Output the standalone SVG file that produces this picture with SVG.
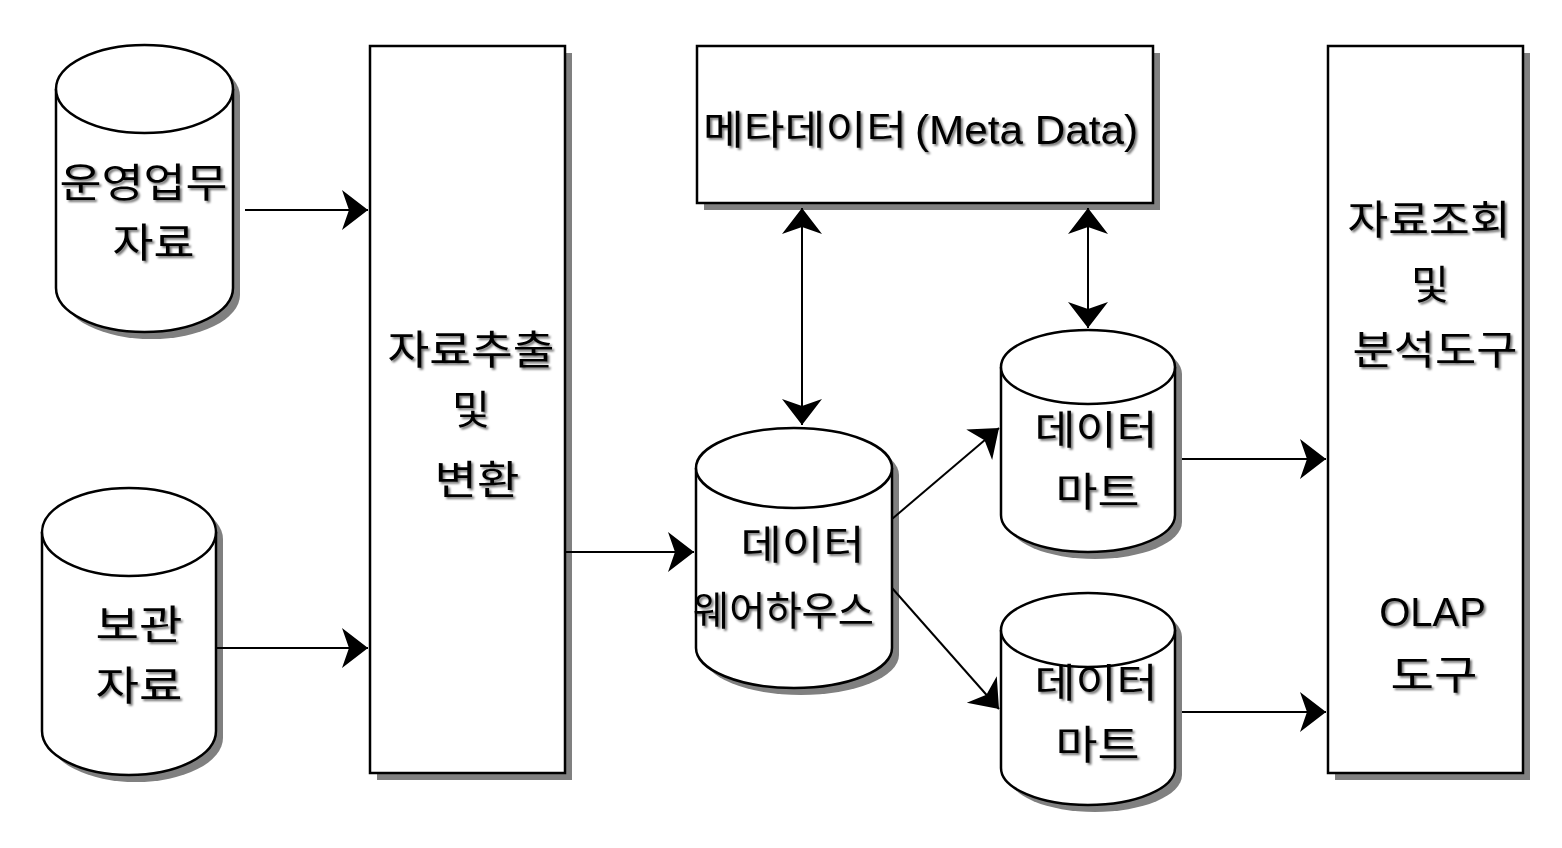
<svg xmlns="http://www.w3.org/2000/svg" width="1562" height="848" viewBox="0 0 1562 848">
<style>
.sh{fill:#808080;stroke:none}
.shape{fill:#fff;stroke:#000;stroke-width:2.5}
.edge{fill:none;stroke:#000;stroke-width:2}
.t{font-family:"Noto Sans CJK KR","Liberation Sans",sans-serif;font-size:40px;fill:#000;text-anchor:middle;filter:url(#ts)}
.l{font-family:"Liberation Sans","Noto Sans CJK KR",sans-serif}
</style>
<defs>
<filter id="ts" x="-10%" y="-20%" width="130%" height="150%">
<feDropShadow dx="2" dy="2" stdDeviation="0.9" flood-color="#000" flood-opacity="0.55"/>
</filter>
<marker id="ah" viewBox="-28 -21 30 42" refX="0" refY="0" markerWidth="30" markerHeight="42" markerUnits="userSpaceOnUse" orient="auto-start-reverse">
<path d="M0,0 L-26,-20 L-19,0 L-26,20 Z" fill="#000"/>
</marker>
</defs>
<rect width="1562" height="848" fill="#fff"/>

<g id="src1">
<path class="sh" d="M63,96 a88.5,44 0 0 1 177,0 V295 a88.5,44 0 0 1 -177,0 Z"/>
<path class="shape" d="M56,89 a88.5,44 0 0 1 177,0 V288 a88.5,44 0 0 1 -177,0 Z"/>
<path class="shape" d="M56,89 a88.5,44 0 0 0 177,0"/>
<text class="t" x="143.5" y="197" textLength="168" lengthAdjust="spacingAndGlyphs">운영업무</text>
<text class="t" x="153.5" y="257" textLength="82" lengthAdjust="spacingAndGlyphs">자료</text>
</g>

<g id="src2">
<path class="sh" d="M49,539 a87,44 0 0 1 174,0 V738 a87,44 0 0 1 -174,0 Z"/>
<path class="shape" d="M42,532 a87,44 0 0 1 174,0 V731 a87,44 0 0 1 -174,0 Z"/>
<path class="shape" d="M42,532 a87,44 0 0 0 174,0"/>
<text class="t" x="139" y="639" textLength="87" lengthAdjust="spacingAndGlyphs">보관</text>
<text class="t" x="139" y="700" textLength="87" lengthAdjust="spacingAndGlyphs">자료</text>
</g>

<g id="etl">
<rect class="sh" x="377" y="53" width="195" height="727"/>
<rect class="shape" x="370" y="46" width="195" height="727"/>
<text class="t" x="471" y="364" textLength="167" lengthAdjust="spacingAndGlyphs">자료추출</text>
<text class="t" x="471" y="424" textLength="38" lengthAdjust="spacingAndGlyphs">및</text>
<text class="t" x="477" y="494" textLength="85" lengthAdjust="spacingAndGlyphs">변환</text>
</g>

<g id="meta">
<rect class="sh" x="704" y="53" width="456" height="157"/>
<rect class="shape" x="697" y="46" width="456" height="157"/>
<text class="t" x="805" y="144" textLength="204" lengthAdjust="spacingAndGlyphs">메타데이터</text>
<text class="t l" x="1026.5" y="144" textLength="223" lengthAdjust="spacingAndGlyphs">(Meta Data)</text>
</g>

<g id="dw">
<path class="sh" d="M703,475 a98,40 0 0 1 196,0 V655 a98,40 0 0 1 -196,0 Z"/>
<path class="shape" d="M696,468 a98,40 0 0 1 196,0 V648 a98,40 0 0 1 -196,0 Z"/>
<path class="shape" d="M696,468 a98,40 0 0 0 196,0"/>
<text class="t" x="802.5" y="559" textLength="124" lengthAdjust="spacingAndGlyphs">데이터</text>
<text class="t" x="783.5" y="625" textLength="181" lengthAdjust="spacingAndGlyphs">웨어하우스</text>
</g>

<g id="dm1">
<path class="sh" d="M1008,374 a87,37 0 0 1 174,0 V522 a87,37 0 0 1 -174,0 Z"/>
<path class="shape" d="M1001,367 a87,37 0 0 1 174,0 V515 a87,37 0 0 1 -174,0 Z"/>
<path class="shape" d="M1001,367 a87,37 0 0 0 174,0"/>
<text class="t" x="1096" y="444" textLength="123" lengthAdjust="spacingAndGlyphs">데이터</text>
<text class="t" x="1097.5" y="506" textLength="84" lengthAdjust="spacingAndGlyphs">마트</text>
</g>

<g id="dm2">
<path class="sh" d="M1008,637 a87,37 0 0 1 174,0 V775 a87,37 0 0 1 -174,0 Z"/>
<path class="shape" d="M1001,630 a87,37 0 0 1 174,0 V768 a87,37 0 0 1 -174,0 Z"/>
<path class="shape" d="M1001,630 a87,37 0 0 0 174,0"/>
<text class="t" x="1096" y="697" textLength="123" lengthAdjust="spacingAndGlyphs">데이터</text>
<text class="t" x="1097.5" y="759" textLength="84" lengthAdjust="spacingAndGlyphs">마트</text>
</g>

<g id="olap">
<rect class="sh" x="1335" y="53" width="195" height="727"/>
<rect class="shape" x="1328" y="46" width="195" height="727"/>
<text class="t" x="1429" y="234" textLength="163" lengthAdjust="spacingAndGlyphs">자료조회</text>
<text class="t" x="1430" y="299" textLength="38" lengthAdjust="spacingAndGlyphs">및</text>
<text class="t" x="1435" y="364" textLength="165" lengthAdjust="spacingAndGlyphs">분석도구</text>
<text class="t l" x="1432.5" y="626">OLAP</text>
<text class="t" x="1434" y="689" textLength="87" lengthAdjust="spacingAndGlyphs">도구</text>
</g>

<g id="connectors">
<line class="edge" x1="245" y1="210" x2="368" y2="210" marker-end="url(#ah)"/>
<line class="edge" x1="216" y1="648" x2="368" y2="648" marker-end="url(#ah)"/>
<line class="edge" x1="565" y1="552" x2="694" y2="552" marker-end="url(#ah)"/>
<line class="edge" x1="802" y1="208" x2="802" y2="425" marker-start="url(#ah)" marker-end="url(#ah)"/>
<line class="edge" x1="1088" y1="208" x2="1088" y2="328" marker-start="url(#ah)" marker-end="url(#ah)"/>
<line class="edge" x1="892" y1="519" x2="999" y2="428" marker-end="url(#ah)"/>
<line class="edge" x1="892" y1="588" x2="999" y2="709" marker-end="url(#ah)"/>
<line class="edge" x1="1182" y1="459" x2="1326" y2="459" marker-end="url(#ah)"/>
<line class="edge" x1="1182" y1="712" x2="1326" y2="712" marker-end="url(#ah)"/>
</g>
</svg>
